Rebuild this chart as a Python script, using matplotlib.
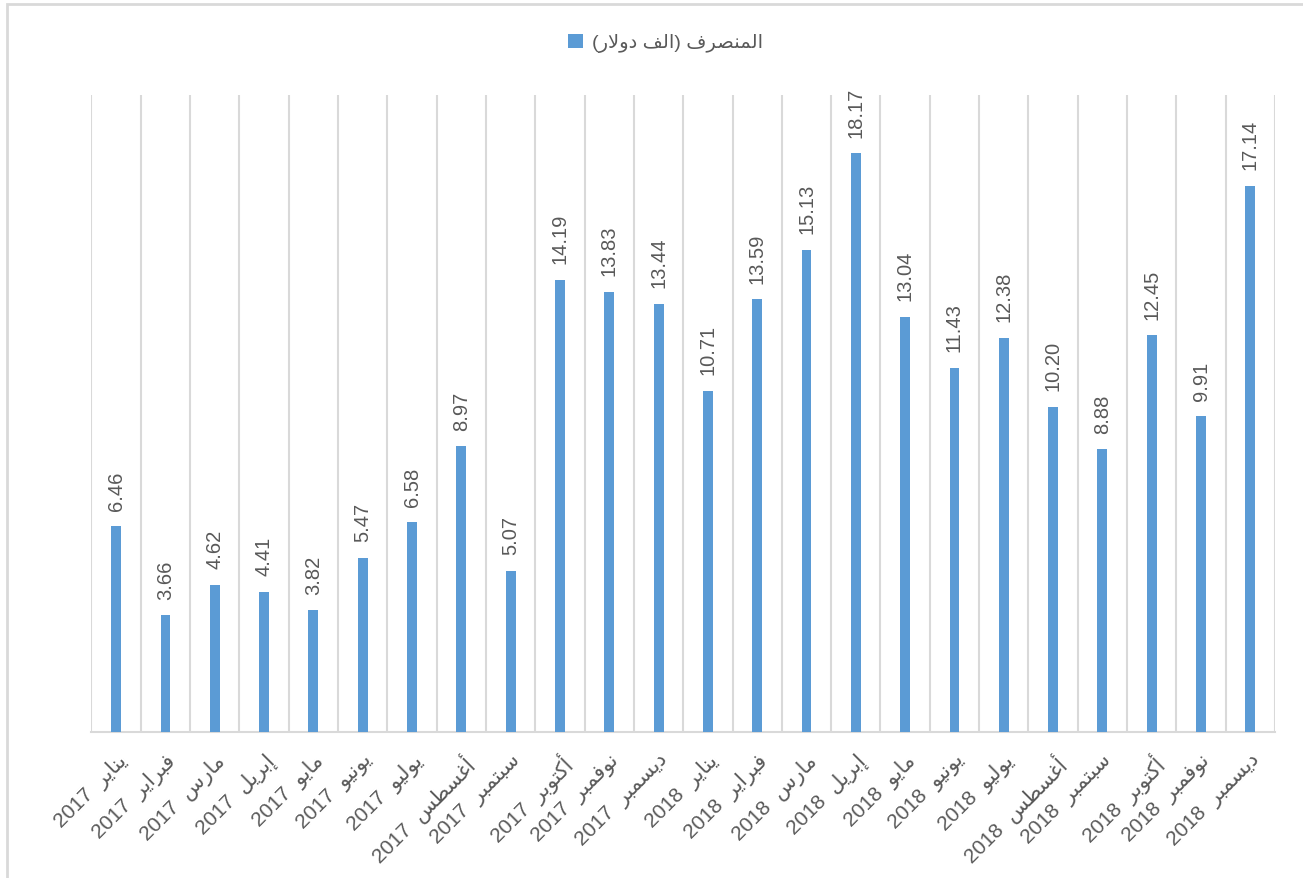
import numpy as np
import matplotlib
matplotlib.use("Agg")
import matplotlib.pyplot as plt
from matplotlib.patches import Rectangle

# Datos del gráfico
months = ['يناير', 'فبراير', 'مارس', 'إبريل', 'مايو', 'يونيو',
          'يوليو', 'أغسطس', 'سبتمبر', 'أكتوبر', 'نوفمبر', 'ديسمبر']
years = ['2017'] * 12 + ['2018'] * 12
month_labels = months * 2
values = [6.46, 3.66, 4.62, 4.41, 3.82, 5.47, 6.58, 8.97, 5.07, 14.19, 13.83, 13.44,
          10.71, 13.59, 15.13, 18.17, 13.04, 11.43, 12.38, 10.20, 8.88, 12.45, 9.91, 17.14]
series_name = 'المنصرف (الف دولار)'

BAR_COLOR = '#5b9bd5'
GRID_COLOR = '#d9d9d9'
TEXT_COLOR = '#595959'

plt.rcParams['font.family'] = ['Liberation Sans', 'DejaVu Sans']

# matplotlib no une las letras árabes: formas de presentación a mano
# (aislada, final, inicial, medial)
FORMS = {
    'ا': ('\uFE8D', '\uFE8E', None, None),
    'أ': ('\uFE83', '\uFE84', None, None),
    'إ': ('\uFE87', '\uFE88', None, None),
    'ب': ('\uFE8F', '\uFE90', '\uFE91', '\uFE92'),
    'ت': ('\uFE95', '\uFE96', '\uFE97', '\uFE98'),
    'د': ('\uFEA9', '\uFEAA', None, None),
    'ر': ('\uFEAD', '\uFEAE', None, None),
    'س': ('\uFEB1', '\uFEB2', '\uFEB3', '\uFEB4'),
    'ص': ('\uFEB9', '\uFEBA', '\uFEBB', '\uFEBC'),
    'ط': ('\uFEC1', '\uFEC2', '\uFEC3', '\uFEC4'),
    'غ': ('\uFECD', '\uFECE', '\uFECF', '\uFED0'),
    'ف': ('\uFED1', '\uFED2', '\uFED3', '\uFED4'),
    'ك': ('\uFED9', '\uFEDA', '\uFEDB', '\uFEDC'),
    'ل': ('\uFEDD', '\uFEDE', '\uFEDF', '\uFEE0'),
    'م': ('\uFEE1', '\uFEE2', '\uFEE3', '\uFEE4'),
    'ن': ('\uFEE5', '\uFEE6', '\uFEE7', '\uFEE8'),
    'و': ('\uFEED', '\uFEEE', None, None),
    'ي': ('\uFEF1', '\uFEF2', '\uFEF3', '\uFEF4'),
}
LAM_ALEF = {'ا': ('\uFEFB', '\uFEFC'), 'أ': ('\uFEF7', '\uFEF8'), 'إ': ('\uFEF9', '\uFEFA')}
MIRROR = {'(': ')', ')': '('}


def joins_next(c):
    return c in FORMS and FORMS[c][2] is not None


def rtl(text):
    out = []
    i = 0
    while i < len(text):
        c = text[i]
        prev_joins = i > 0 and joins_next(text[i - 1])
        if c == 'ل' and i + 1 < len(text) and text[i + 1] in LAM_ALEF:
            out.append(LAM_ALEF[text[i + 1]][1 if prev_joins else 0])
            i += 2
            continue
        if c in FORMS:
            nxt = i + 1 < len(text) and text[i + 1] in FORMS and joins_next(c)
            iso, fin, ini, med = FORMS[c]
            if prev_joins and nxt:
                out.append(med)
            elif prev_joins:
                out.append(fin)
            elif nxt:
                out.append(ini)
            else:
                out.append(iso)
        else:
            out.append(MIRROR.get(c, c))
        i += 1
    return ''.join(reversed(out))


tick_labels = [f'{y}  {rtl(m)}' for y, m in zip(years, month_labels)]
x = np.arange(len(values))

fig = plt.figure(figsize=(13.03, 8.79), dpi=100)
ax = fig.add_axes([0.0702, 0.166, 0.9083, 0.7248])

ax.bar(x, values, width=0.2, color=BAR_COLOR, label=rtl(series_name), zorder=3)

for xi, v in zip(x, values):
    ax.annotate(f'{v:.2f}', (xi, v), xytext=(0, 12), textcoords='offset points',
                rotation=90, ha='center', va='bottom', fontsize=14.5, color=TEXT_COLOR)

ax.set_xlim(-0.5, len(values) - 0.5)
ax.set_ylim(0, 20)
ax.set_yticks([])

ax.set_xticks(x)
ax.set_xticklabels(tick_labels, rotation=45, ha='right', rotation_mode='anchor',
                   fontsize=15, color=TEXT_COLOR)
ax.tick_params(axis='x', length=0, pad=13)
ax.set_xticks(np.arange(-0.5, len(values), 1), minor=True)
ax.tick_params(axis='x', which='minor', length=0)
ax.grid(which='minor', axis='x', color=GRID_COLOR, linewidth=1.5, zorder=0)

for side in ['top', 'right', 'left']:
    ax.spines[side].set_visible(False)
ax.spines['bottom'].set_color(GRID_COLOR)
ax.spines['bottom'].set_linewidth(1.5)

fig.legend(loc='center', bbox_to_anchor=(0.511, 0.95), frameon=False, fontsize=14,
           handlelength=0.75, handleheight=0.75, handletextpad=0.5, labelcolor=TEXT_COLOR)

# marco del área del gráfico
fig.patches.append(Rectangle((7 / 1303, -0.1), 1.2, 1.1 - 5 / 879, transform=fig.transFigure,
                             fill=False, edgecolor=GRID_COLOR, linewidth=2))

fig.savefig('out.png', dpi=100)
